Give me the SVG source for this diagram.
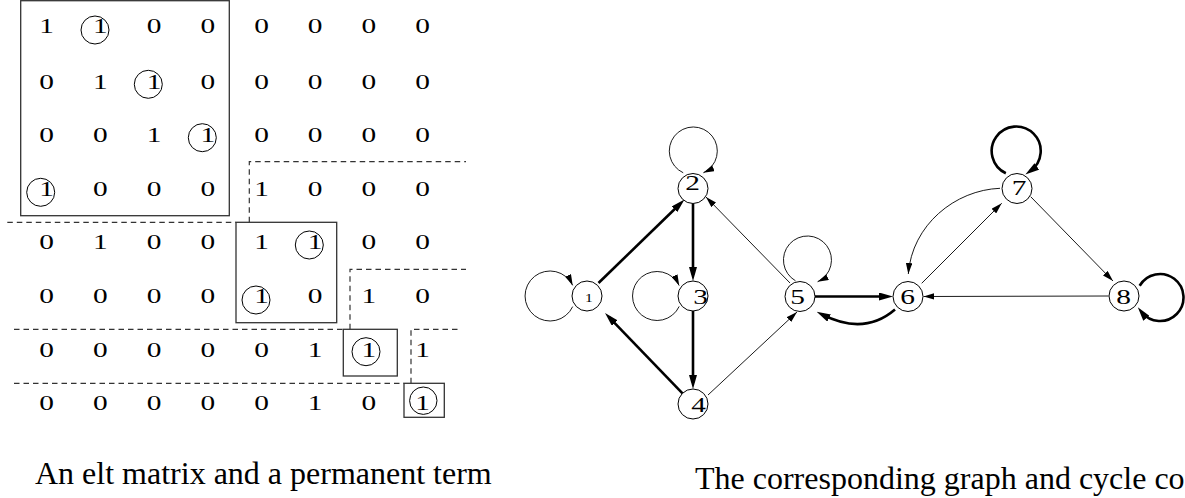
<svg xmlns="http://www.w3.org/2000/svg" width="1185" height="498" viewBox="0 0 1185 498">
  <defs>
    <marker id="ah-thin" viewBox="0 0 11 6.5" markerWidth="11" markerHeight="6.5" refX="11" refY="3.25" orient="auto" markerUnits="userSpaceOnUse">
      <path d="M0,0 L11,3.25 L0,6.5 z" fill="#000"/>
    </marker>
    <marker id="ah-thick" viewBox="0 0 14 8" markerWidth="14" markerHeight="8" refX="8" refY="4" orient="auto" markerUnits="userSpaceOnUse">
      <path d="M0,0 L14,4 L0,8 z" fill="#000"/>
    </marker>
  </defs>
  <style>
    .num { font-family: "Liberation Serif", "Times New Roman", serif; font-size: 21px; fill: #000; text-anchor: middle; }
    .ring { fill: none; stroke: #000; stroke-width: 1; }
    .box { fill: none; stroke: #333; stroke-width: 1.3; }
    .dash { fill: none; stroke: #333; stroke-width: 1.2; stroke-dasharray: 5.5 4; }
    .node circle { fill: #fff; stroke: #000; stroke-width: 1; }
    .thin { fill: none; stroke: #000; stroke-width: 0.9; marker-end: url(#ah-thin); }
    .thick { fill: none; stroke: #000; stroke-width: 2.6; marker-end: url(#ah-thick); }
    .caption { font-family: "Liberation Serif", "Times New Roman", serif; font-size: 32px; fill: #000; }
  </style>

  <!-- 8x8 matrix; digits are drawn horizontally widened, x values are divided by 1.4 -->
  <g id="matrix">
    <g transform="scale(1.4,1)">
      <text class="num" x="33.36 71.71 110.07 148.43 186.79 225.14 263.5 301.86" y="33.5">11000000</text>
      <text class="num" x="33.36 71.71 110.07 148.43 186.79 225.14 263.5 301.86" y="88.8">01100000</text>
      <text class="num" x="33.36 71.71 110.07 148.43 186.79 225.14 263.5 301.86" y="142.5">00110000</text>
      <text class="num" x="33.36 71.71 110.07 148.43 186.79 225.14 263.5 301.86" y="196.5">10001000</text>
      <text class="num" x="33.36 71.71 110.07 148.43 186.79 225.14 263.5 301.86" y="249.5">01001100</text>
      <text class="num" x="33.36 71.71 110.07 148.43 186.79 225.14 263.5 301.86" y="303">00001010</text>
      <text class="num" x="33.36 71.71 110.07 148.43 186.79 225.14 263.5 301.86" y="357">00000111</text>
      <text class="num" x="33.36 71.71 110.07 148.43 186.79 225.14 263.5 301.86" y="410">00000101</text>
    </g>
    <!-- entries picked by the permanent term -->
    <circle class="ring" cx="95" cy="30" r="14"/>
    <circle class="ring" cx="148.3" cy="84.3" r="14"/>
    <circle class="ring" cx="202.3" cy="137.7" r="14"/>
    <circle class="ring" cx="40.7" cy="192.3" r="14"/>
    <circle class="ring" cx="309.3" cy="245" r="14"/>
    <circle class="ring" cx="256" cy="300" r="14"/>
    <circle class="ring" cx="366" cy="351.7" r="14"/>
    <circle class="ring" cx="423.3" cy="400.7" r="13.7"/>
    <!-- diagonal blocks -->
    <rect class="box" x="20.7" y="0.7" width="208.6" height="215"/>
    <rect class="box" x="236" y="222.3" width="100.7" height="100.4"/>
    <rect class="box" x="343.3" y="329.3" width="54" height="46.7"/>
    <rect class="box" x="404" y="383.3" width="40.3" height="34"/>
    <!-- block separators -->
    <path class="dash" d="M7.3,222.3 H236 M249.3,222.3 V161.7 H466"/>
    <path class="dash" d="M14,329.3 H343.3 M350,329.3 V269.3 H466"/>
    <path class="dash" d="M14,383.3 H404 M411,383.3 V329.3 H458"/>
  </g>

  <g id="connectors">
    <!-- self loops -->
    <path class="thin" d="M572.7,306.6 A25,25 0 1 1 572.7,285.4"/>
    <path class="thin" d="M683.2,172.75 A24,24 0 1 1 703.4,172.75"/>
    <path class="thin" d="M679.2,306.4 A24.5,24.5 0 1 1 679.2,285.6"/>
    <path class="thin" d="M795.5,280.8 A24,24 0 1 1 817.6,281.75"/>
    <path class="thick" stroke-width="2.9" d="M1005.85,173.2 A24.5,24.5 0 1 1 1030.25,171.07"/>
    <path class="thick" stroke-width="2.9" d="M1139.65,285.75 A23.5,23.5 0 1 1 1141.5,312"/>
    <!-- cycle cover edges -->
    <path class="thick" d="M598.5,283 L680.2,203.7"/>
    <path class="thick" d="M693,203.5 L693,275"/>
    <path class="thick" d="M693,311 L693,383"/>
    <path class="thick" d="M682.5,393.3 L609.2,317.3"/>
    <path class="thick" d="M815,296.5 L887,296.5"/>
    <path class="thick" d="M895,309.5 Q864,336 822,314.4"/>
    <!-- remaining edges -->
    <path class="thin" d="M790,283 L706,197"/>
    <path class="thin" d="M708,395 L797,312"/>
    <path class="thin" d="M921.7,283.3 L1001.7,203.3"/>
    <path class="thin" d="M1000,188.3 C955,190 912,225 908.3,274"/>
    <path class="thin" d="M1030.7,196.7 L1113,281"/>
    <path class="thin" d="M1108.5,296 L923.5,296.5"/>
  </g>

  <g id="n1" class="node"><circle cx="587" cy="296" r="15"/><text class="num" style="font-size:13px" transform="translate(589,302) scale(1.2,1)">1</text></g>
  <g id="n2" class="node"><circle cx="693" cy="188.5" r="15"/><text class="num" transform="translate(692.5,190) scale(1.4,1)">2</text></g>
  <g id="n3" class="node"><circle cx="693" cy="296" r="15"/><text class="num" transform="translate(700.5,304) scale(1.4,1)">3</text></g>
  <g id="n4" class="node"><circle cx="693" cy="404" r="15"/><text class="num" transform="translate(698.5,411.5) scale(1.4,1)">4</text></g>
  <g id="n5" class="node"><circle cx="800" cy="296.5" r="15"/><text class="num" transform="translate(797.5,303.5) scale(1.4,1)">5</text></g>
  <g id="n6" class="node"><circle cx="908" cy="296.5" r="15"/><text class="num" transform="translate(907.5,304) scale(1.4,1)">6</text></g>
  <g id="n7" class="node"><circle cx="1017" cy="188.5" r="15"/><text class="num" transform="translate(1019,195) scale(1.4,1)">7</text></g>
  <g id="n8" class="node"><circle cx="1124" cy="296" r="15"/><text class="num" transform="translate(1123.5,304) scale(1.4,1)">8</text></g>

  <text class="caption" x="35" y="484">An elt matrix and a permanent term</text>
  <text class="caption" x="695" y="489">The corresponding graph and cycle co</text>
</svg>
